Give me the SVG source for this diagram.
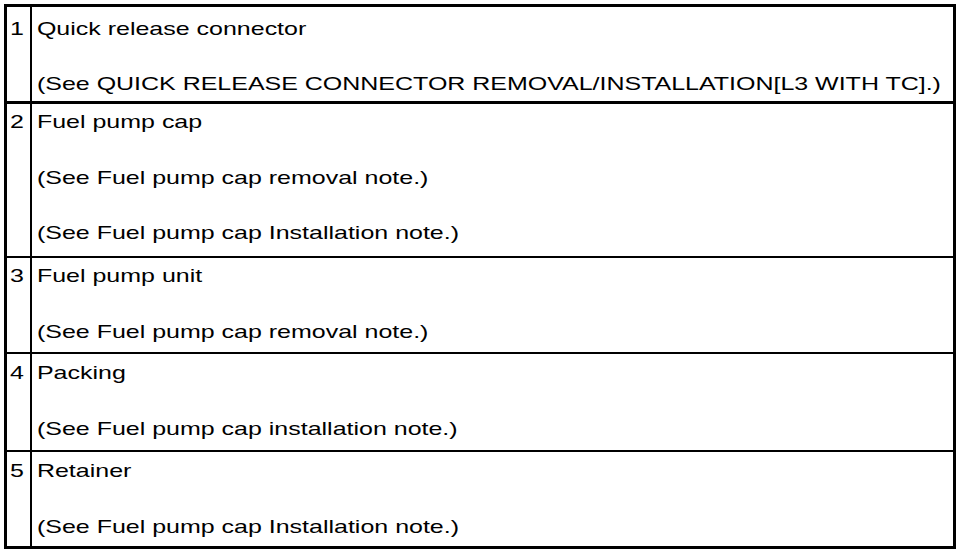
<svg xmlns="http://www.w3.org/2000/svg" width="960" height="554" viewBox="0 0 960 554">
<style>
.t{font-family:"Liberation Sans",Arial,sans-serif;font-size:19px;fill:#000}
.n{text-anchor:middle}
.l{stroke:#000;fill:none;shape-rendering:crispEdges}
</style>
<rect width="960" height="554" fill="#fff"/>
<g id="grid">
<rect class="l" x="5.5" y="5.5" width="948.5" height="541.5" stroke-width="3"/>
<line class="l" x1="30.5" y1="5" x2="30.5" y2="547" stroke-width="2"/>
<line class="l" x1="5" y1="102.5" x2="954" y2="102.5" stroke-width="2.5"/>
<line class="l" x1="5" y1="257" x2="954" y2="257" stroke-width="2.5"/>
<line class="l" x1="5" y1="353" x2="954" y2="353" stroke-width="2.5"/>
<line class="l" x1="5" y1="451" x2="954" y2="451" stroke-width="2.5"/>
</g>
<g transform="scale(1.315,1)">
<g id="row1">
<text class="t n" x="12.9" y="35">1</text>
<text class="t" x="28.1" y="35">Quick release connector</text>
<text class="t" x="28.1" y="90">(See QUICK RELEASE CONNECTOR REMOVAL/INSTALLATION[L3 WITH TC].)</text>
</g>
<g id="row2">
<text class="t n" x="12.9" y="128">2</text>
<text class="t" x="28.1" y="128">Fuel pump cap</text>
<text class="t" x="28.1" y="184">(See Fuel pump cap removal note.)</text>
<text class="t" x="28.1" y="239">(See Fuel pump cap Installation note.)</text>
</g>
<g id="row3">
<text class="t n" x="12.9" y="282">3</text>
<text class="t" x="28.1" y="282">Fuel pump unit</text>
<text class="t" x="28.1" y="338">(See Fuel pump cap removal note.)</text>
</g>
<g id="row4">
<text class="t n" x="12.9" y="379">4</text>
<text class="t" x="28.1" y="379">Packing</text>
<text class="t" x="28.1" y="435">(See Fuel pump cap installation note.)</text>
</g>
<g id="row5">
<text class="t n" x="12.9" y="477">5</text>
<text class="t" x="28.1" y="477">Retainer</text>
<text class="t" x="28.1" y="533">(See Fuel pump cap Installation note.)</text>
</g>
</g>
</svg>
